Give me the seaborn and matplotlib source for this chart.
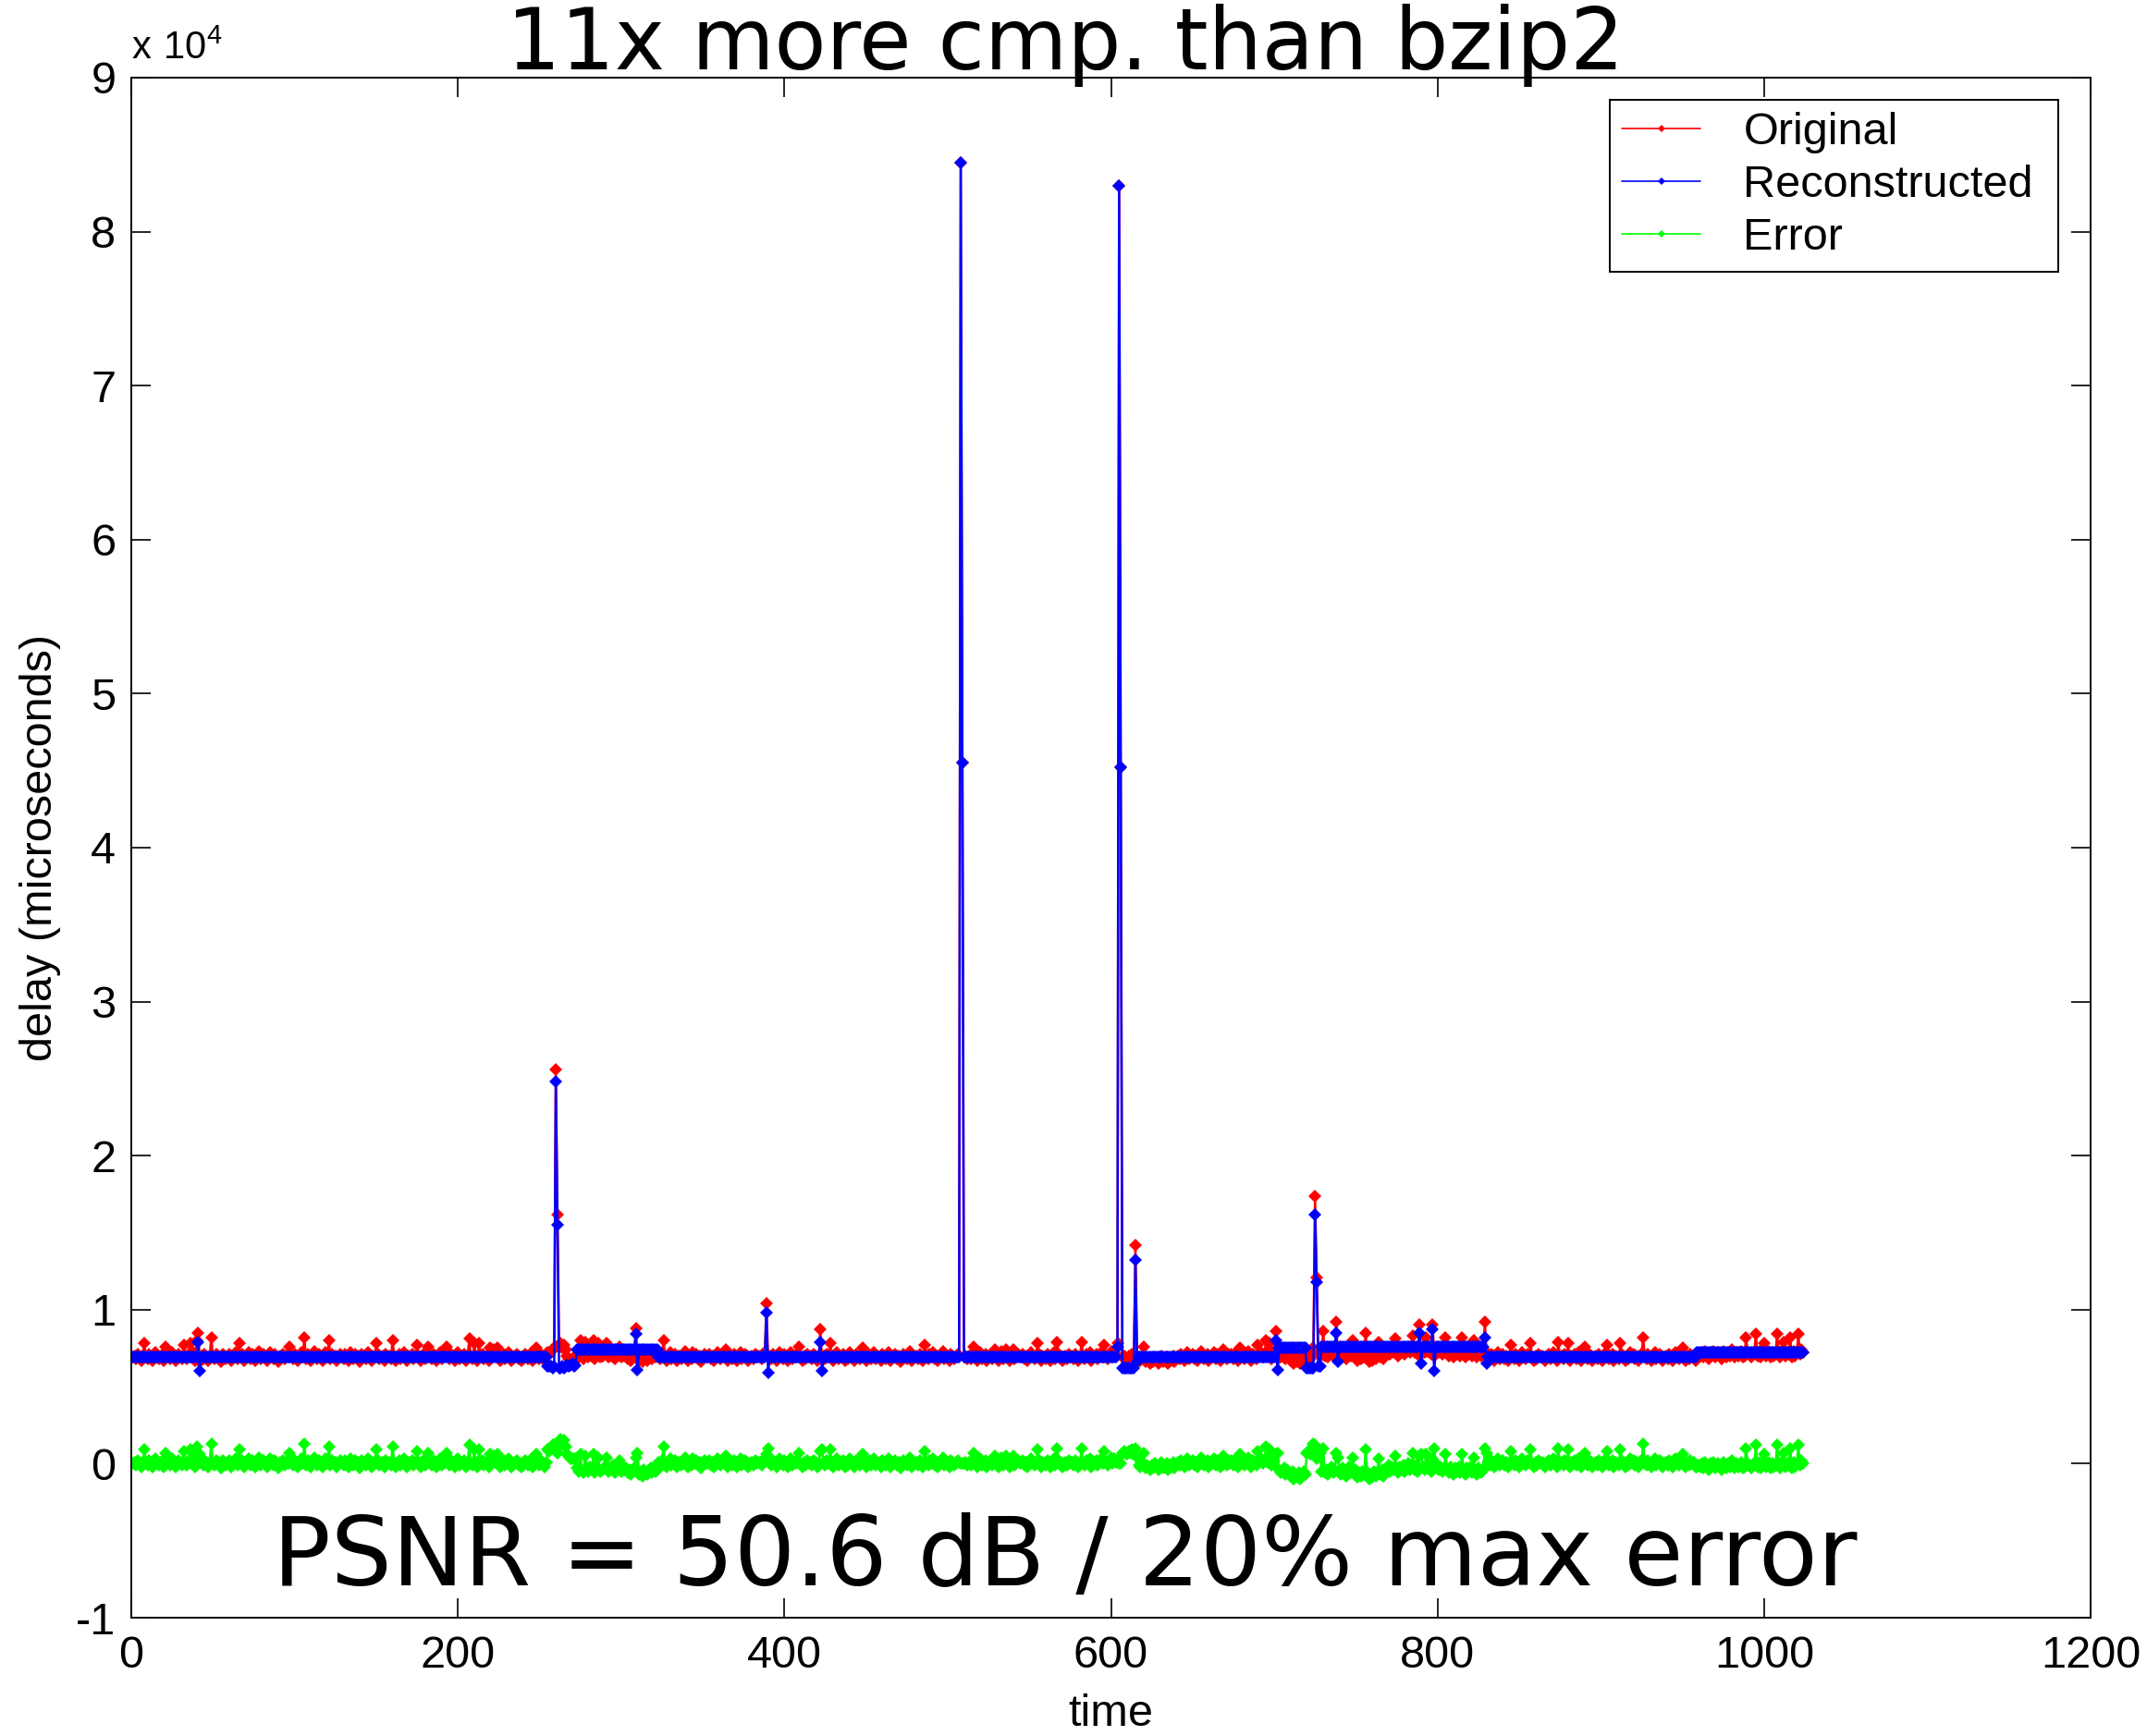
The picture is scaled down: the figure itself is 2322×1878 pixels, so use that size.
import numpy as np
import matplotlib
matplotlib.use("Agg")
import matplotlib.pyplot as plt
import seaborn as sns
from matplotlib.lines import Line2D

# ---------------------------------------------------------------
# Data, in units of 100 microseconds,
# 32 consecutive time samples per row (time = 1 .. 1024)
# ---------------------------------------------------------------
original_rows = [
    [69,70,68,71,69,67,70,78,69,68,71,70,67,69,72,70,68,69,71,67,76,70,69,68,72,69,67,70,71,69,68,77],
    [70,68,71,78,69,72,67,80,85,66,70,68,71,69,67,70,82,69,68,71,70,69,66,71,70,68,69,71,67,70,69,72],
    [68,78,69,71,67,70,69,72,68,71,69,67,70,73,68,69,71,70,67,69,72,70,68,71,69,66,70,69,71,68,70,69],
    [76,70,68,71,69,67,70,72,69,82,68,71,70,67,69,73,70,68,71,69,67,70,72,69,80,68,71,69,70,67,69,71],
    [69,68,71,70,67,72,69,68,71,69,70,66,71,69,70,68,72,69,67,70,69,78,71,68,69,70,67,71,69,70,68,80],
    [70,67,69,71,68,70,72,69,67,70,69,71,68,69,77,70,67,69,71,68,70,76,69,68,71,70,67,69,72,68,69,70],
    [76,69,68,71,70,67,69,72,68,70,69,71,67,70,81,69,68,78,70,67,78,69,71,68,69,70,67,75,69,74,70,75],
    [69,67,70,71,68,69,72,70,67,69,70,71,68,69,67,70,71,69,68,70,72,67,69,75,70,68,71,69,67,70,72,71],
    [73,74,75,256,162,76,78,75,77,74,70,68,67,68,66,67,71,69,80,70,68,79,71,69,72,70,80,68,71,78,69,70],
    [70,72,78,69,71,70,73,68,71,70,76,69,72,70,71,68,70,67,69,71,88,68,67,69,66,70,68,67,69,71,68,70],
    [69,70,70,68,71,80,69,67,70,72,68,69,71,67,70,69,68,71,73,69,67,70,68,72,69,71,68,70,66,69,71,70],
    [69,71,68,70,67,69,72,70,68,69,71,74,67,70,69,68,71,69,67,70,72,68,69,71,70,67,69,70,68,71,69,70],
    [70,68,71,72,104,69,70,68,71,69,67,70,72,69,68,71,70,67,69,72,68,70,69,71,76,69,67,70,68,71,69,70],
    [68,71,70,67,69,87,69,70,68,71,69,78,70,67,69,72,68,70,69,71,67,70,68,72,69,70,67,71,69,68,70,75],
    [69,67,70,71,68,69,72,68,70,69,67,71,70,68,69,72,67,70,69,71,68,70,66,69,71,70,68,69,73,67,70,69],
    [70,68,71,69,67,77,70,68,71,69,72,68,70,67,69,71,73,68,70,69,67,71,70,68,69,71,70,845,455,69,70,68],
    [70,68,71,76,69,67,70,72,68,69,71,67,70,69,68,71,74,69,67,70,73,68,69,74,71,67,70,74,68,69,71,70],
    [69,71,68,70,67,69,72,70,68,69,78,71,67,70,69,68,71,69,67,70,72,68,79,71,70,67,69,70,68,71,69,70],
    [68,71,70,67,69,79,70,68,71,69,72,67,70,69,71,68,70,72,69,77,70,68,71,73,69,72,70,78,830,452,69,70],
    [69,68,70,69,71,68,142,70,68,67,69,76,66,68,67,65,68,66,69,67,65,68,70,66,67,69,65,68,67,70,66,68],
    [70,68,71,69,67,70,72,68,69,71,68,70,67,69,73,70,68,69,71,67,70,69,72,68,71,69,67,70,74,69,68,71],
    [69,71,68,70,72,67,75,69,71,68,70,73,69,67,71,70,68,77,70,72,69,71,80,70,78,68,72,71,86,68,71,69],
    [70,72,68,71,69,67,70,65,68,66,69,65,67,70,68,69,70,68,71,75,174,121,72,70,71,86,70,72,69,71,74,70],
    [71,92,70,72,69,73,70,68,71,74,70,80,69,72,67,70,68,71,69,85,70,66,69,67,71,68,70,79,69,72,68,70],
    [73,75,71,74,72,81,73,70,74,72,75,71,73,76,72,74,83,72,75,71,90,71,74,72,82,73,75,71,90,70,73,75],
    [72,74,71,73,82,72,70,74,72,69,73,71,74,70,82,72,69,73,71,74,70,80,72,69,73,71,70,72,92,72,70,68],
    [71,69,67,70,72,68,69,71,68,70,67,69,77,70,68,71,69,67,70,72,69,68,71,70,78,69,67,70,68,71,69,70],
    [69,67,70,71,68,69,72,70,67,79,69,70,68,71,69,78,67,70,69,71,68,72,69,67,70,76,69,68,71,70,67,69],
    [70,68,71,69,67,70,72,77,68,69,71,67,70,69,68,78,71,69,67,70,68,72,69,71,68,70,67,69,71,82,69,68],
    [71,69,67,70,72,68,69,71,70,67,69,70,68,71,69,67,70,72,69,68,71,75,69,67,70,68,71,69,70,67,70,71],
    [70,72,69,73,71,68,72,70,73,69,71,72,70,68,73,71,69,72,70,74,71,69,72,70,71,73,69,70,82,72,71,69],
    [71,72,84,70,73,69,72,78,70,71,73,69,72,70,71,84,72,69,73,79,70,72,71,82,69,73,70,72,84,71,74,72],
]

reconstructed_rows = [
    [69,69,69,69,69,69,69,69,69,69,69,69,69,69,69,69,69,69,69,69,69,69,69,69,69,69,69,69,69,69,69,69],
    [69,69,69,69,69,69,69,69,79,60,69,69,69,69,69,69,69,69,69,69,69,69,69,69,69,69,69,69,69,69,69,69],
    [69,69,69,69,69,69,69,69,69,69,69,69,69,69,69,69,69,69,69,69,69,69,69,69,69,69,69,69,69,69,69,69],
    [69,69,69,69,69,69,69,69,69,69,69,69,69,69,69,69,69,69,69,69,69,69,69,69,69,69,69,69,69,69,69,69],
    [69,69,69,69,69,69,69,69,69,69,69,69,69,69,69,69,69,69,69,69,69,69,69,69,69,69,69,69,69,69,69,69],
    [69,69,69,69,69,69,69,69,69,69,69,69,69,69,69,69,69,69,69,69,69,69,69,69,69,69,69,69,69,69,69,69],
    [69,69,69,69,69,69,69,69,69,69,69,69,69,69,69,69,69,69,69,69,69,69,69,69,69,69,69,69,69,69,69,69],
    [69,69,69,69,69,69,69,69,69,69,69,69,69,69,69,69,69,69,69,69,69,69,69,69,69,69,69,69,69,69,63,63],
    [63,62,63,248,155,62,62,63,62,63,64,63,64,65,63,64,74,74,74,74,74,74,74,74,74,74,74,74,74,74,74,74],
    [74,74,74,74,74,74,74,74,74,74,74,74,74,74,74,74,74,74,74,74,84,61,74,74,74,74,74,74,74,74,74,74],
    [74,74,69,69,69,69,69,69,69,69,69,69,69,69,69,69,69,69,69,69,69,69,69,69,69,69,69,69,69,69,69,69],
    [69,69,69,69,69,69,69,69,69,69,69,69,69,69,69,69,69,69,69,69,69,69,69,69,69,69,69,69,69,69,69,69],
    [69,69,69,69,98,59,69,69,69,69,69,69,69,69,69,69,69,69,69,69,69,69,69,69,69,69,69,69,69,69,69,69],
    [69,69,69,69,69,79,60,69,69,69,69,69,69,69,69,69,69,69,69,69,69,69,69,69,69,69,69,69,69,69,69,69],
    [69,69,69,69,69,69,69,69,69,69,69,69,69,69,69,69,69,69,69,69,69,69,69,69,69,69,69,69,69,69,69,69],
    [69,69,69,69,69,69,69,69,69,69,69,69,69,69,69,69,69,69,69,69,69,69,69,69,69,69,69,845,455,69,69,69],
    [69,69,69,69,69,69,69,69,69,69,69,69,69,69,69,69,69,69,69,69,69,69,69,69,69,69,69,69,69,69,69,69],
    [69,69,69,69,69,69,69,69,69,69,69,69,69,69,69,69,69,69,69,69,69,69,69,69,69,69,69,69,69,69,69,69],
    [69,69,69,69,69,69,69,69,69,69,69,69,69,69,69,69,69,69,69,69,69,69,69,69,69,69,69,76,830,452,62,62],
    [62,62,62,62,62,62,132,66,69,69,69,69,69,69,69,69,69,69,69,69,69,69,69,69,69,69,69,69,69,69,69,69],
    [69,69,69,69,69,69,69,69,69,69,69,69,69,69,69,69,69,69,69,69,69,69,69,69,69,69,69,69,69,69,69,69],
    [69,69,69,69,69,69,69,69,69,69,69,69,69,69,69,69,69,69,69,69,69,69,69,69,69,69,69,69,80,61,75,75],
    [75,75,75,75,75,75,75,75,75,75,75,75,75,75,75,62,62,62,62,62,162,118,63,63,76,76,76,76,76,76,76,76],
    [76,85,66,76,76,76,76,76,76,76,76,76,76,76,76,76,76,76,76,76,76,76,76,76,76,76,76,76,76,76,76,76],
    [76,76,76,76,76,76,76,76,76,76,76,76,76,76,76,76,76,76,76,76,85,65,76,76,76,76,76,76,87,60,76,76],
    [76,76,76,76,76,76,76,76,76,76,76,76,76,76,76,76,76,76,76,76,76,76,76,76,76,76,76,76,82,65,69,69],
    [69,69,69,69,69,69,69,69,69,69,69,69,69,69,69,69,69,69,69,69,69,69,69,69,69,69,69,69,69,69,69,69],
    [69,69,69,69,69,69,69,69,69,69,69,69,69,69,69,69,69,69,69,69,69,69,69,69,69,69,69,69,69,69,69,69],
    [69,69,69,69,69,69,69,69,69,69,69,69,69,69,69,69,69,69,69,69,69,69,69,69,69,69,69,69,69,69,69,69],
    [69,69,69,69,69,69,69,69,69,69,69,69,69,69,69,69,69,69,69,69,69,69,69,69,69,69,69,69,69,69,72,72],
    [72,72,72,72,72,72,72,72,72,72,72,72,72,72,72,72,72,72,72,72,72,72,72,72,72,72,72,72,72,72,72,72],
    [72,72,72,72,72,72,72,72,72,72,72,72,72,72,72,72,72,72,72,72,72,72,72,72,72,72,72,72,72,72,72,72],
]

error_rows = [
    [0,1,-1,2,0,-2,1,9,0,-1,2,1,-2,0,3,1,-1,0,2,-2,7,1,0,-1,3,0,-2,1,2,0,-1,8],
    [1,-1,2,9,0,3,-2,11,6,6,1,-1,2,0,-2,1,13,0,-1,2,1,0,-3,2,1,-1,0,2,-2,1,0,3],
    [-1,9,0,2,-2,1,0,3,-1,2,0,-2,1,4,-1,0,2,1,-2,0,3,1,-1,2,0,-3,1,0,2,-1,1,0],
    [7,1,-1,2,0,-2,1,3,0,13,-1,2,1,-2,0,4,1,-1,2,0,-2,1,3,0,11,-1,2,0,1,-2,0,2],
    [0,-1,2,1,-2,3,0,-1,2,0,1,-3,2,0,1,-1,3,0,-2,1,0,9,2,-1,0,1,-2,2,0,1,-1,11],
    [1,-2,0,2,-1,1,3,0,-2,1,0,2,-1,0,8,1,-2,0,2,-1,1,7,0,-1,2,1,-2,0,3,-1,0,1],
    [7,0,-1,2,1,-2,0,3,-1,1,0,2,-2,1,12,0,-1,9,1,-2,9,0,2,-1,0,1,-2,6,0,5,1,6],
    [0,-2,1,2,-1,0,3,1,-2,0,1,2,-1,0,-2,1,2,0,-1,1,3,-2,0,6,1,-1,2,0,-2,1,9,8],
    [10,12,12,8,7,14,16,12,15,11,6,5,3,3,3,3,-3,-5,6,-4,-6,5,-3,-5,-2,-4,6,-6,-3,4,-5,-4],
    [-4,-2,4,-5,-3,-4,-1,-6,-3,-4,2,-5,-2,-4,-3,-6,-4,-7,-5,-3,4,7,-7,-5,-8,-4,-6,-7,-5,-3,-6,-4],
    [-5,-4,1,-1,2,11,0,-2,1,3,-1,0,2,-2,1,0,-1,2,4,0,-2,1,-1,3,0,2,-1,1,-3,0,2,1],
    [0,2,-1,1,-2,0,3,1,-1,0,2,5,-2,1,0,-1,2,0,-2,1,3,-1,0,2,1,-2,0,1,-1,2,0,1],
    [1,-1,2,3,6,10,1,-1,2,0,-2,1,3,0,-1,2,1,-2,0,3,-1,1,0,2,7,0,-2,1,-1,2,0,1],
    [-1,2,1,-2,0,8,9,1,-1,2,0,9,1,-2,0,3,-1,1,0,2,-2,1,-1,3,0,1,-2,2,0,-1,1,6],
    [0,-2,1,2,-1,0,3,-1,1,0,-2,2,1,-1,0,3,-2,1,0,2,-1,1,-3,0,2,1,-1,0,4,-2,1,0],
    [1,-1,2,0,-2,8,1,-1,2,0,3,-1,1,-2,0,2,4,-1,1,0,-2,2,1,-1,0,2,1,0,0,0,1,-1],
    [1,-1,2,7,0,-2,1,3,-1,0,2,-2,1,0,-1,2,5,0,-2,1,4,-1,0,5,2,-2,1,5,-1,0,2,1],
    [0,2,-1,1,-2,0,3,1,-1,0,9,2,-2,1,0,-1,2,0,-2,1,3,-1,10,2,1,-2,0,1,-1,2,0,1],
    [-1,2,1,-2,0,10,1,-1,2,0,3,-2,1,0,2,-1,1,3,0,8,1,-1,2,4,0,3,1,2,0,0,7,8],
    [7,6,8,7,9,6,10,4,-1,-2,0,7,-3,-1,-2,-4,-1,-3,0,-2,-4,-1,1,-3,-2,0,-4,-1,-2,1,-3,-1],
    [1,-1,2,0,-2,1,3,-1,0,2,-1,1,-2,0,4,1,-1,0,2,-2,1,0,3,-1,2,0,-2,1,5,0,-1,2],
    [0,2,-1,1,3,-2,6,0,2,-1,1,4,0,-2,2,1,-1,8,1,3,0,2,11,1,9,-1,3,2,6,7,-4,-6],
    [-5,-3,-7,-4,-6,-8,-5,-10,-7,-9,-6,-10,-8,-5,-7,7,8,6,9,13,12,3,9,7,-5,10,-6,-4,-7,-5,-2,-6],
    [-5,7,4,-4,-7,-3,-6,-8,-5,-2,-6,4,-7,-4,-9,-6,-8,-5,-7,9,-6,-10,-7,-9,-5,-8,-6,3,-7,-4,-8,-6],
    [-3,-1,-5,-2,-4,5,-3,-6,-2,-4,-1,-5,-3,0,-4,-2,7,-4,-1,-5,5,6,-2,-4,6,-3,-1,-5,3,10,-3,-1],
    [-4,-2,-5,-3,6,-4,-6,-2,-4,-7,-3,-5,-2,-6,6,-4,-7,-3,-5,-2,-6,4,-4,-7,-3,-5,-6,-4,10,7,1,-1],
    [2,0,-2,1,3,-1,0,2,-1,1,-2,0,8,1,-1,2,0,-2,1,3,0,-1,2,1,9,0,-2,1,-1,2,0,1],
    [0,-2,1,2,-1,0,3,1,-2,10,0,1,-1,2,0,9,-2,1,0,2,-1,3,0,-2,1,7,0,-1,2,1,-2,0],
    [1,-1,2,0,-2,1,3,8,-1,0,2,-2,1,0,-1,9,2,0,-2,1,-1,3,0,2,-1,1,-2,0,2,13,0,-1],
    [2,0,-2,1,3,-1,0,2,1,-2,0,1,-1,2,0,-2,1,3,0,-1,2,6,0,-2,1,-1,2,0,1,-2,-2,-1],
    [-2,0,-3,1,-1,-4,0,-2,1,-3,-1,0,-2,-4,1,-1,-3,0,-2,2,-1,-3,0,-2,-1,1,-3,-2,10,0,-1,-3],
    [-1,0,12,-2,1,-3,0,6,-2,-1,1,-3,0,-2,-1,12,0,-3,1,7,-2,0,-1,10,-3,1,-2,0,12,-1,2,0],
]

series_names = ["Original", "Reconstructed", "Error"]
series_colors = ["#ff0000", "#0000ff", "#00ff00"]
x_ticks = [0, 200, 400, 600, 800, 1000, 1200]
y_ticks = [-1, 0, 1, 2, 3, 4, 5, 6, 7, 8, 9]          # x 10^4
title_text = "11x more cmp. than bzip2"
note_text = "PSNR = 50.6 dB / 20% max error"

for nm, rows in zip(series_names, [original_rows, reconstructed_rows, error_rows]):
    for k, r in enumerate(rows):
        assert len(r) == 32, (nm, k, len(r))

original = np.array(sum(original_rows, [])) * 100
reconstructed = np.array(sum(reconstructed_rows, [])) * 100
error = np.array(sum(error_rows, [])) * 100

# ---------------------------------------------------------------
sns.set_style("ticks")
plt.rcParams["font.family"] = ["Liberation Sans", "DejaVu Sans"]
plt.rcParams["text.color"] = "black"
plt.rcParams["axes.labelcolor"] = "black"
plt.rcParams["xtick.color"] = "black"
plt.rcParams["ytick.color"] = "black"

W, H = 2322, 1878
fig = plt.figure(figsize=(W / 100, H / 100), dpi=100)
ax = fig.add_axes([142 / W, 1 - 1750 / H, (2261 - 142) / W, (1750 - 84) / H])

for ys, col in zip([original, reconstructed, error], series_colors):
    t = np.arange(1, len(ys) + 1)
    sns.lineplot(x=t, y=ys, ax=ax, color=col, lw=1.8, marker="D",
                 markersize=7, markeredgewidth=0, markerfacecolor=col,
                 estimator=None, sort=False, legend=False)

ax.set_xlim(0, 1200)
ax.set_ylim(-10000, 90000)
ax.set_xticks(x_ticks)
ax.set_xticklabels([str(v) for v in x_ticks])
ax.set_yticks([v * 10000 for v in y_ticks])
ax.set_yticklabels([str(v) for v in y_ticks])
ax.tick_params(direction="in", length=15, width=1.2, top=True, right=True,
               labelsize=35, colors="black")
ax.tick_params(axis="x", pad=14)
ax.tick_params(axis="y", pad=12)
for s in ax.spines.values():
    s.set_visible(True)
    s.set_color("black")
    s.set_linewidth(1.4)

ax.set_xlabel("time", fontsize=35, color="black")
ax.set_ylabel("delay (microseconds)", fontsize=35, color="black")
ax.xaxis.set_label_coords(0.5, -0.0495)
ax.yaxis.set_label_coords(-0.036, 0.5)
ax.grid(False)

handles = [Line2D([], [], color=c, lw=1.2, marker="D", markersize=4,
                  markeredgewidth=0) for c in series_colors]
legend_labels = ["Original", "Reconstructed ", "Error"]
leg = ax.legend(handles, legend_labels, loc="upper left",
                bbox_to_anchor=((1741 - 142) / 2119, (1750 - 108) / 1666),
                borderaxespad=0, fontsize=35, frameon=True, fancybox=False,
                framealpha=1, edgecolor="black", handlelength=1.75,
                handletextpad=0.95, borderpad=0.27, labelspacing=0.25,
                numpoints=1)
leg.get_frame().set_linewidth(1.4)
for txt in leg.get_texts():
    txt.set_color("black")

fig.text(142 / W, 1 - 64 / H, r"$\mathregular{x\ 10^{4}}$", fontsize=30,
         color="black", ha="left", va="baseline")
fig.text(1152 / W, 1 - 75 / H, title_text, fontsize=66, color="black",
         family="DejaVu Sans", ha="center", va="baseline")
fig.text(1152 / W, 1 - 1715 / H, note_text, fontsize=75, color="black",
         family="DejaVu Sans", ha="center", va="baseline")

fig.savefig("out.png", dpi=100)
